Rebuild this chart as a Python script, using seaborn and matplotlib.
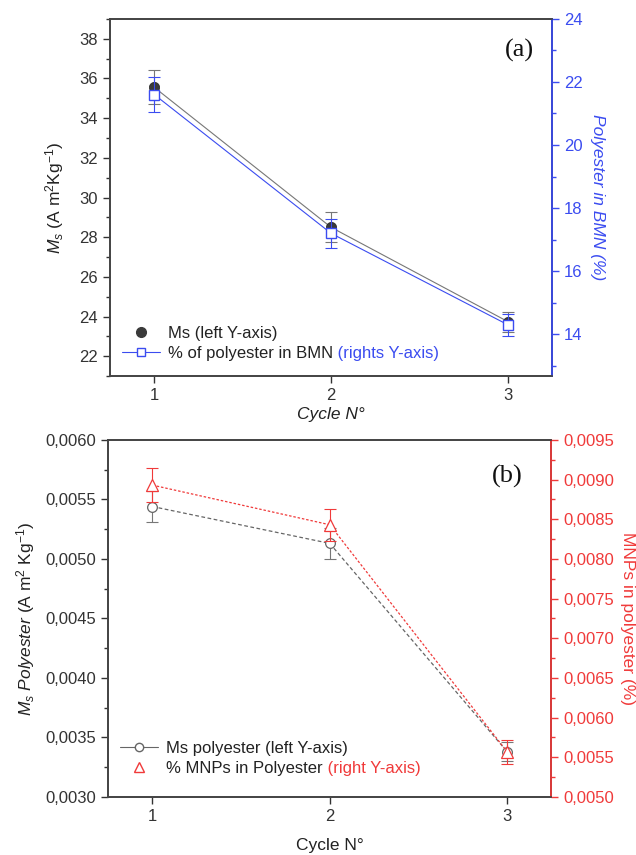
import matplotlib
matplotlib.use("Agg")
import matplotlib.pyplot as plt
from matplotlib.ticker import MultipleLocator, FuncFormatter
import seaborn as sns
import pandas as pd

sns.set_theme(style="white")
plt.rcParams['font.family'] = ['Liberation Sans', 'DejaVu Sans']
plt.rcParams['mathtext.fontset'] = 'custom'
plt.rcParams['mathtext.rm'] = 'Liberation Sans'
plt.rcParams['mathtext.it'] = 'Liberation Sans:italic'

# ---- data ----
cycles = [1, 2, 3]
ms_bmn = [35.55, 28.5, 23.75]
ms_bmn_err = [0.85, 0.75, 0.5]
poly_bmn = [21.6, 17.2, 14.3]
poly_bmn_err = [0.55, 0.45, 0.35]

ms_poly = [0.00544, 0.00513, 0.00338]
ms_poly_err = [0.00013, 0.00013, 0.00008]
mnp_poly = [0.00893, 0.00843, 0.00557]
mnp_poly_err = [0.00021, 0.00020, 0.00015]

BLUE = '#3b4cf0'
RED = '#f03a3a'
TXT = '#333333'

fig = plt.figure(figsize=(6.36, 8.55), dpi=100)
axA = fig.add_axes([0.173, 0.560, 0.695, 0.418])
axB = fig.add_axes([0.170, 0.068, 0.697, 0.4175])

def comma(fmt):
    return FuncFormatter(lambda v, p: (fmt % v).replace('.', ','))

def style_axis(ax, color):
    ax.tick_params(axis='y', which='major', direction='out', length=5, width=1,
                   color=color, labelcolor=color, labelsize=12)
    ax.tick_params(axis='y', which='minor', direction='out', length=3, width=1, color=color)

# ---------------- panel (a) ----------------
dfa = pd.DataFrame({'cycle': cycles, 'ms': ms_bmn, 'poly': poly_bmn})
axA2 = axA.twinx()
axA.errorbar(cycles, ms_bmn, yerr=ms_bmn_err, fmt='none', ecolor='#777777',
             elinewidth=0.8, capsize=4, capthick=0.8, zorder=2)
sns.lineplot(data=dfa, x='cycle', y='ms', ax=axA, color='#777777', lw=0.8,
             zorder=3, legend=False)
sns.scatterplot(data=dfa, x='cycle', y='ms', ax=axA, color='#3a3a3a', s=55,
                edgecolor='#222222', linewidth=0.5, zorder=5, legend=False)
axA2.errorbar(cycles, poly_bmn, yerr=poly_bmn_err, fmt='none', ecolor=BLUE,
              elinewidth=0.8, capsize=4, capthick=0.8, zorder=2)
sns.lineplot(data=dfa, x='cycle', y='poly', ax=axA2, color=BLUE, lw=0.8,
             marker='s', markersize=7, markerfacecolor='white',
             markeredgecolor=BLUE, markeredgewidth=1, zorder=3, legend=False)

axA.set_xlim(0.75, 3.25)
axA.set_ylim(21.0, 39.0)
axA2.set_ylim(12.67, 24.0)
axA.set_xticks(cycles)
axA.yaxis.set_major_locator(MultipleLocator(2))
axA.yaxis.set_minor_locator(MultipleLocator(1))
axA2.yaxis.set_major_locator(MultipleLocator(2))
axA2.yaxis.set_minor_locator(MultipleLocator(1))
style_axis(axA, TXT)
style_axis(axA2, BLUE)
axA.tick_params(axis='x', direction='out', length=5, width=1, colors=TXT, labelsize=12, bottom=True)
axA.tick_params(axis='y', left=True)
axA2.tick_params(axis='y', right=True, which='both')
axA.set_xlabel('Cycle N°', fontsize=12.5, style='italic', color='#222222', labelpad=3)
axA.set_ylabel(r'$M_s$ (A m$^2$Kg$^{-1}$)', fontsize=12.5, color='#222222', labelpad=10)
axA2.set_ylabel('Polyester in BMN (%)', fontsize=12.5, style='italic', color=BLUE,
                rotation=270, va='center', ha='center')
axA2.yaxis.set_label_coords(1.102, 0.5)
for s in ['left', 'bottom', 'top']:
    axA.spines[s].set_color('#444444')
    axA2.spines[s].set_color('#444444')
axA2.spines['right'].set_color(BLUE)
axA.text(0.96, 0.945, '(a)', transform=axA.transAxes, ha='right', va='top',
         fontsize=19, family='Liberation Serif', color='#111111')

hA1 = plt.Line2D([], [], ls='none', marker='o', color='#3a3a3a', markersize=7)
hA2 = plt.Line2D([], [], ls='-', lw=0.8, color=BLUE, marker='s', markersize=6,
                 markerfacecolor='white', markeredgecolor=BLUE)
legA = axA.legend([hA1, hA2], ['Ms (left Y-axis)', '% of polyester in BMN'],
                  loc='lower left', bbox_to_anchor=(0.0, 0.01), frameon=False,
                  fontsize=12, handlelength=2.3, handletextpad=0.5,
                  labelspacing=0.3, borderaxespad=0.3)
for t in legA.get_texts():
    t.set_color('#222222')
fig.canvas.draw()
axA.annotate(' (rights Y-axis)', xy=(1, 0), xycoords=legA.get_texts()[1],
             ha='left', va='bottom', fontsize=12, color=BLUE)

# ---------------- panel (b) ----------------
dfb = pd.DataFrame({'cycle': cycles, 'ms': ms_poly, 'mnp': mnp_poly})
axB2 = axB.twinx()
axB.errorbar(cycles, ms_poly, yerr=ms_poly_err, fmt='none', ecolor='#777777',
             elinewidth=0.8, capsize=4, capthick=0.8, zorder=2)
sns.lineplot(data=dfb, x='cycle', y='ms', ax=axB, color='#666666', lw=0.9,
             dashes=False, marker='o', markersize=7, markerfacecolor='white',
             markeredgecolor='#666666', markeredgewidth=0.9, zorder=3, legend=False)
axB.lines[-1].set_linestyle((0, (3, 2)))
axB2.errorbar(cycles, mnp_poly, yerr=mnp_poly_err, fmt='none', ecolor=RED,
              elinewidth=0.8, capsize=4, capthick=0.8, zorder=2)
sns.lineplot(data=dfb, x='cycle', y='mnp', ax=axB2, color=RED, lw=0.9,
             marker='^', markersize=8, markerfacecolor='white',
             markeredgecolor=RED, markeredgewidth=0.9, zorder=3, legend=False)
axB2.lines[-1].set_linestyle((0, (2, 1.5)))

axB.set_xlim(0.75, 3.25)
axB.set_ylim(0.0030, 0.0060)
axB2.set_ylim(0.0050, 0.0095)
axB.set_xticks(cycles)
axB.yaxis.set_major_locator(MultipleLocator(0.0005))
axB.yaxis.set_minor_locator(MultipleLocator(0.00025))
axB2.yaxis.set_major_locator(MultipleLocator(0.0005))
axB2.yaxis.set_minor_locator(MultipleLocator(0.00025))
axB.yaxis.set_major_formatter(comma('%.4f'))
axB2.yaxis.set_major_formatter(comma('%.4f'))
style_axis(axB, TXT)
style_axis(axB2, RED)
axB.tick_params(axis='x', direction='out', length=5, width=1, colors=TXT, labelsize=12, bottom=True)
axB.tick_params(axis='y', left=True)
axB2.tick_params(axis='y', right=True, which='both')
axB.set_xlabel('Cycle N°', fontsize=12.5, color='#222222', labelpad=10)
axB.set_ylabel(r'$M_s$ $Polyester$ (A m$^2$ Kg$^{-1}$)', fontsize=12.5, color='#222222', labelpad=6)
axB2.set_ylabel('MNPs in polyester (%)', fontsize=12.5, color=RED,
                rotation=270, va='center', ha='center')
axB2.yaxis.set_label_coords(1.172, 0.5)
for s in ['left', 'bottom', 'top']:
    axB.spines[s].set_color('#444444')
    axB2.spines[s].set_color('#444444')
axB2.spines['right'].set_color(RED)
axB.text(0.935, 0.93, '(b)', transform=axB.transAxes, ha='right', va='top',
         fontsize=19, family='Liberation Serif', color='#111111')

hB1 = plt.Line2D([], [], ls='-', lw=0.8, color='#666666', marker='o', markersize=6,
                 markerfacecolor='white', markeredgecolor='#666666')
hB2 = plt.Line2D([], [], ls='none', marker='^', markersize=7,
                 markerfacecolor='white', markeredgecolor=RED)
legB = axB.legend([hB1, hB2], ['Ms polyester (left Y-axis)', '% MNPs in Polyester'],
                  loc='lower left', bbox_to_anchor=(0.0, 0.025), frameon=False,
                  fontsize=12, handlelength=2.3, handletextpad=0.5,
                  labelspacing=0.3, borderaxespad=0.3)
for t in legB.get_texts():
    t.set_color('#222222')
fig.canvas.draw()
axB.annotate(' (right Y-axis)', xy=(1, 0), xycoords=legB.get_texts()[1],
             ha='left', va='bottom', fontsize=12, color=RED)

fig.savefig('out.png', dpi=100)
